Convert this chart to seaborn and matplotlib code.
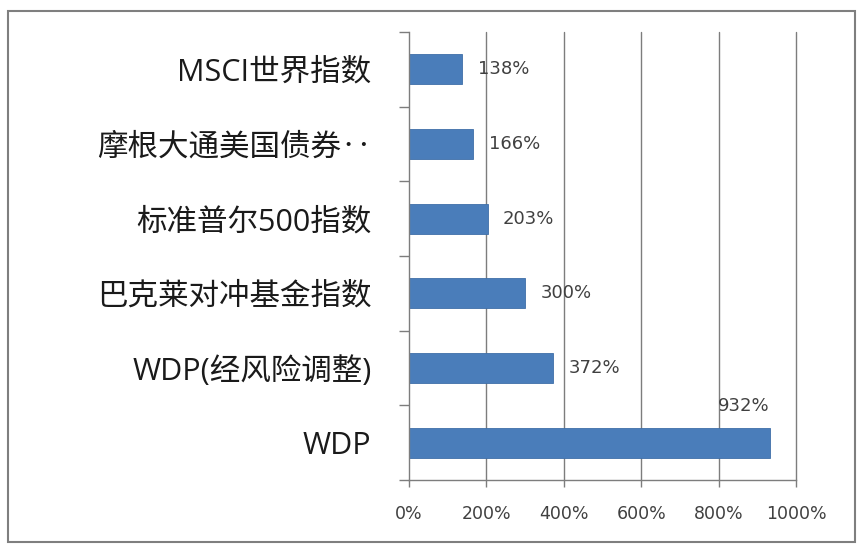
import matplotlib
matplotlib.use("Agg")
import matplotlib.pyplot as plt
import seaborn as sns
import pandas as pd
from matplotlib.patches import Rectangle

categories = ["MSCI世界指数", "摩根大通美国债券‥", "标准普尔500指数",
              "巴克莱对冲基金指数", "WDP(经风险调整)", "WDP"]
values = [138, 166, 203, 300, 372, 932]
value_labels = ["138%", "166%", "203%", "300%", "372%", "932%"]
x_ticks = [0, 200, 400, 600, 800, 1000]
x_tick_labels = ["0%", "200%", "400%", "600%", "800%", "1000%"]

df = pd.DataFrame({"category": categories, "value": values})

sns.set_theme(style="white")
plt.rcParams['font.family'] = ['Noto Sans CJK SC', 'DejaVu Sans']

fig = plt.figure(figsize=(8.66, 5.52), dpi=100)
fig.patch.set_facecolor("white")
ax = fig.add_axes([0.4723, 0.1304, 0.4469, 0.8116])

sns.barplot(data=df, y="category", x="value", order=categories,
            color="#4A7DBA", width=0.4, saturation=1, ax=ax,
            edgecolor="#3F6FA8", linewidth=0.6)

grid_c = "#7d7d7d"
ax.set_xlim(x_ticks[0], x_ticks[-1])
ax.set_ylim(len(categories) - 0.5, -0.5)
for t in x_ticks[1:]:
    ax.axvline(t, color=grid_c, lw=1.0, zorder=0, clip_on=False)

ax.set_xticks(x_ticks)
ax.set_xticklabels(x_tick_labels)
ax.tick_params(axis="x", bottom=True, length=5, width=1, color=grid_c, pad=13)
for t in ax.get_xticklabels():
    t.set_fontfamily(["DejaVu Sans"])
    t.set_fontsize(12.5)
    t.set_color("#404040")

ax.set_yticks(range(len(categories)))
ax.set_yticklabels(categories)
ax.set_yticks([i - 0.5 for i in range(len(categories) + 1)], minor=True)
ax.tick_params(axis="y", which="major", left=False, length=0, pad=27)
ax.tick_params(axis="y", which="minor", left=True, length=7, width=1, color=grid_c)
for t in ax.get_yticklabels():
    t.set_fontfamily(["Open Sans", "Noto Sans CJK SC", "DejaVu Sans"])
    t.set_fontsize(22)
    t.set_color("#1a1a1a")

ax.set_xlabel("")
ax.set_ylabel("")
for s in ["top", "right"]:
    ax.spines[s].set_visible(False)
for s in ["left", "bottom"]:
    ax.spines[s].set_color(grid_c)
    ax.spines[s].set_linewidth(1.0)

xmax = x_ticks[-1]
for i, (v, lab) in enumerate(zip(values, value_labels)):
    if v / xmax > 0.85:
        ax.annotate(lab, xy=(v, i - 0.2), xytext=(0, 9), textcoords="offset points",
                    ha="right", va="bottom", fontsize=13, color="#404040",
                    fontfamily=["DejaVu Sans"])
    else:
        ax.annotate(lab, xy=(v, i), xytext=(11, 0), textcoords="offset points",
                    ha="left", va="center", fontsize=13, color="#404040",
                    fontfamily=["DejaVu Sans"])

fig.patches.append(Rectangle((8 / 866, 10 / 552), (855 - 8) / 866, (542 - 11) / 552,
                             transform=fig.transFigure, fill=False,
                             edgecolor="#7f7f7f", linewidth=1.5))

fig.savefig("out.png", dpi=100)
